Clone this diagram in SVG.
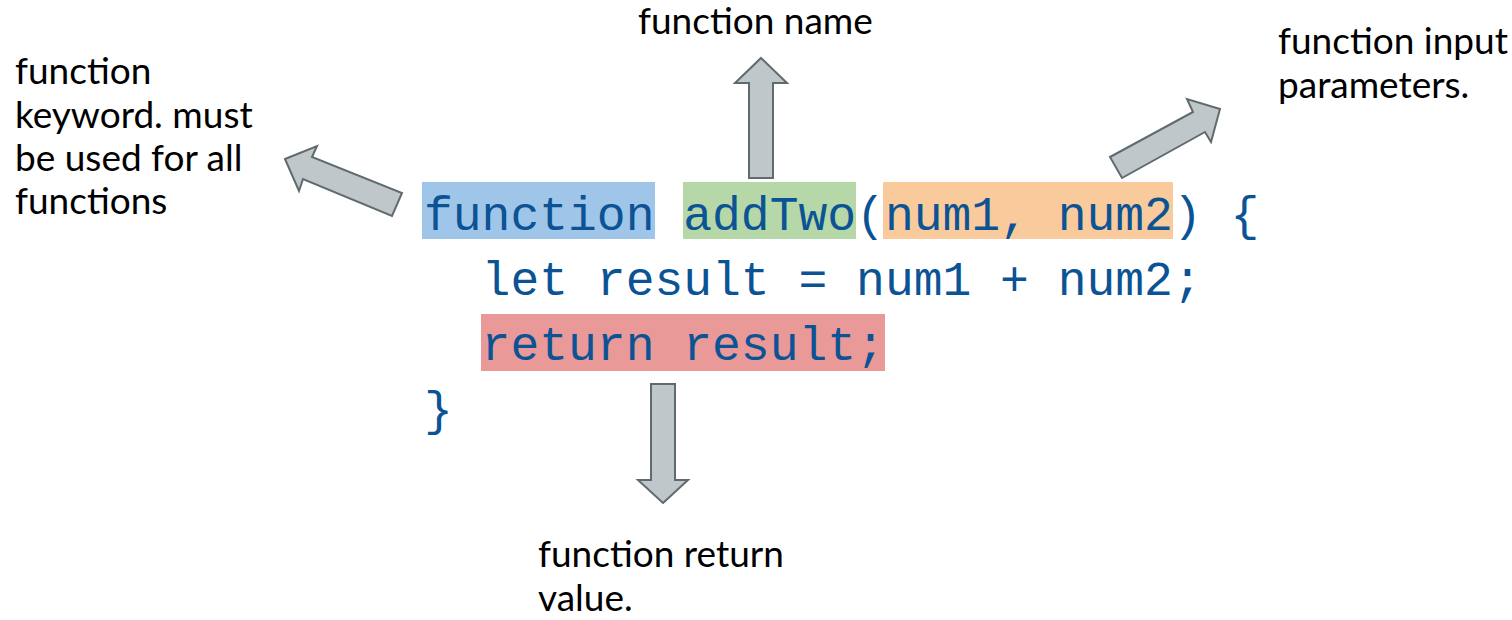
<svg xmlns="http://www.w3.org/2000/svg" width="1512" height="620" viewBox="0 0 1512 620">
<style>
.code{font-family:"Liberation Mono","DejaVu Sans Mono",monospace;font-size:48px;fill:#0b5394;white-space:pre}
.lbl{font-family:Lato,"Liberation Sans",sans-serif;font-size:37px;fill:#000}
.arrow{fill:#bfc7ca;stroke:#5f6b6d;stroke-width:2;stroke-linejoin:miter}
</style>
<rect width="1512" height="620" fill="#fff"/>
<g id="highlights">
<rect x="422" y="182" width="233" height="57" fill="#9fc5e8"/>
<rect x="683" y="182" width="173" height="57" fill="#b6d7a8"/>
<rect x="883" y="182" width="290" height="57" fill="#f9cb9c"/>
<rect x="481" y="314" width="404" height="57" fill="#ea9999"/>
</g>
<g id="code">
<text class="code" x="424" y="230" xml:space="preserve">function addTwo(num1, num2) {</text>
<text class="code" x="424" y="295" xml:space="preserve">  let result = num1 + num2;</text>
<text class="code" x="424" y="360" xml:space="preserve">  return result;</text>
<text class="code" x="424" y="425" xml:space="preserve">}</text>
</g>
<g id="connectors">
<polygon class="arrow" points="285,159 317,146 312,157 402,193 392,216 303,179 299,191"/>
<polygon class="arrow" points="761,58 787,83 773,83 773,178 749,178 749,83 735,83"/>
<polygon class="arrow" points="1220,109 1187,99 1193,112 1110,157 1122,178 1205,132 1211,142"/>
<polygon class="arrow" points="663,503 688,480 675,480 675,384 651,384 651,480 638,480"/>
</g>
<g id="label-keyword">
<text class="lbl" x="15" y="84">function</text>
<text class="lbl" x="15" y="128">keyword. must</text>
<text class="lbl" x="15" y="171">be used for all</text>
<text class="lbl" x="15" y="214">functions</text>
</g>
<g id="label-name">
<text class="lbl" x="638" y="34">function name</text>
</g>
<g id="label-params">
<text class="lbl" x="1278" y="54">function input</text>
<text class="lbl" x="1278" y="98">parameters.</text>
</g>
<g id="label-return">
<text class="lbl" x="538" y="567">function return</text>
<text class="lbl" x="538" y="611">value.</text>
</g>
</svg>
